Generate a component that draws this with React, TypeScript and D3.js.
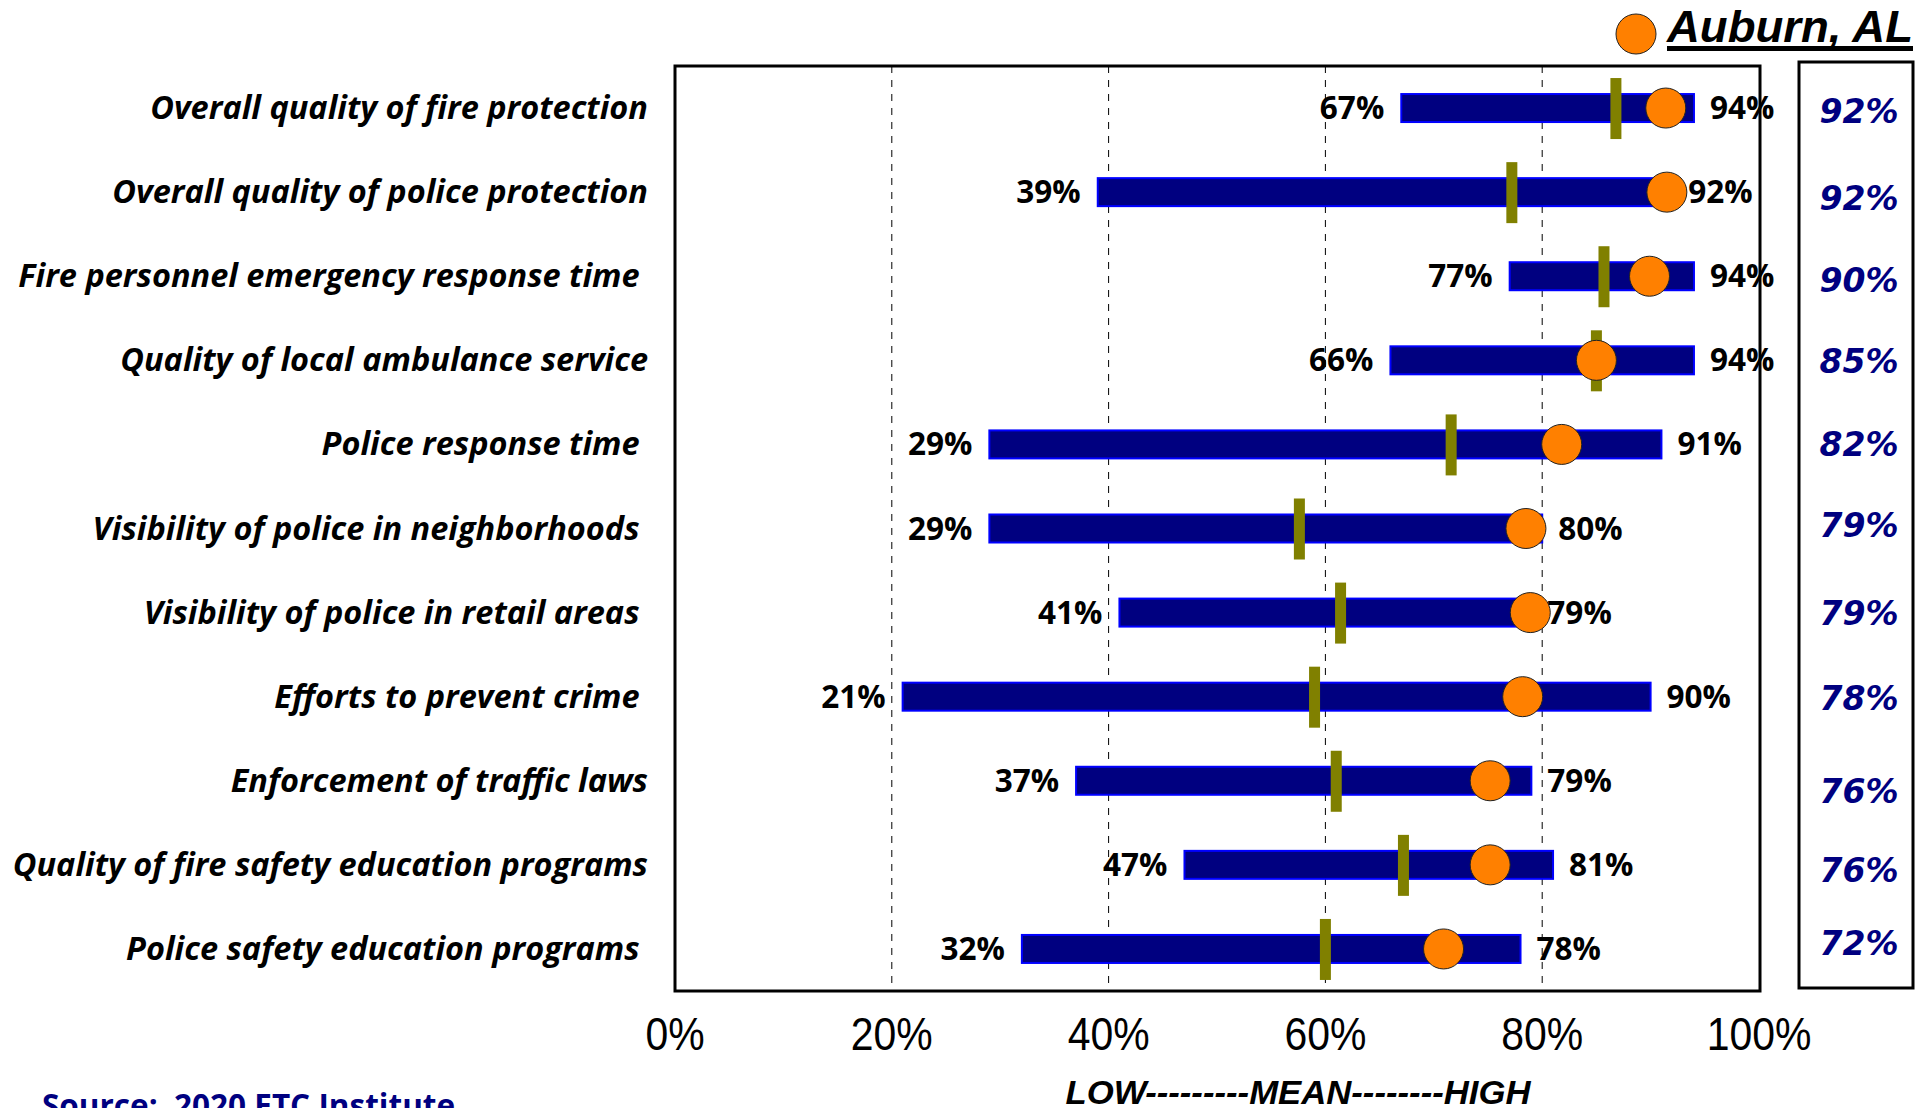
import React, { useEffect, useRef } from "react";
import * as d3 from "d3";

// categories, top to bottom
const categories = [
  "Overall quality of fire protection",
  "Overall quality of police protection",
  "Fire personnel emergency response time ",
  "Quality of local ambulance service",
  "Police response time ",
  "Visibility of police in neighborhoods ",
  "Visibility of police in retail areas ",
  "Efforts to prevent crime ",
  "Enforcement of traffic laws",
  "Quality of fire safety education programs",
  "Police safety education programs ",
];

const lowValues = [67, 39, 77, 66, 29, 29, 41, 21, 37, 47, 32];
const highValues = [94, 92, 94, 94, 91, 80, 79, 90, 79, 81, 78];
const meanValues = [86.8, 77.2, 85.7, 85.0, 71.6, 57.6, 61.4, 59.0, 61.0, 67.2, 60.0];
// Auburn: where the dot sits, and the figure printed in the box on the right
const auburnDots = [91.4, 91.5, 89.9, 85.0, 81.8, 78.5, 78.9, 78.2, 75.2, 75.2, 70.9];
const auburnValues = [92, 92, 90, 85, 82, 79, 79, 78, 76, 76, 72];

const xTicks = [0, 20, 40, 60, 80, 100];

// the box figures are not quite on the row centres in the original
const boxNudge = [3, 6, 4, 1, 0, -4, 0, 1, 10, 5, -6];

const App: React.FC = () => {
  const ref = useRef<SVGSVGElement>(null);

  useEffect(() => {
    const svg = d3.select(ref.current);
    svg.selectAll("*").remove();

    const left = 675, right = 1760, top = 66, bottom = 991;

    const rows = categories.map((c, i) => ({
      name: c,
      low: lowValues[i],
      high: highValues[i],
      mean: meanValues[i],
      dot: auburnDots[i],
      city: auburnValues[i],
      nudge: boxNudge[i],
    }));

    const x = d3.scaleLinear().domain([0, 100]).range([left, right - 1]);
    const y = d3.scaleBand().domain(categories).range([top, bottom]);
    const cy = (d: string) => (y(d) as number) + y.bandwidth() / 2;

    // dashed grid lines
    svg.append("g")
      .selectAll("line")
      .data(xTicks.slice(1, -1))
      .join("line")
      .attr("x1", d => x(d)).attr("x2", d => x(d))
      .attr("y1", top).attr("y2", bottom)
      .attr("stroke", "#000")
      .attr("stroke-width", 1)
      .attr("stroke-dasharray", "7,7");

    // plot frame
    svg.append("rect")
      .attr("x", left).attr("y", top)
      .attr("width", right - left).attr("height", bottom - top)
      .attr("fill", "none")
      .attr("stroke", "#000")
      .attr("stroke-width", 3);

    // axis tick labels
    svg.append("g")
      .selectAll("text")
      .data(xTicks)
      .join("text")
      .attr("transform", d => `translate(${x(d)},1050) scale(0.89,1)`)
      .attr("text-anchor", "middle")
      .attr("font-family", "'Liberation Sans', Arial, sans-serif")
      .attr("font-size", 46)
      .attr("fill", "#000")
      .text(d => `${d}%`);

    // category labels
    svg.append("g")
      .selectAll("text")
      .data(rows)
      .join("text")
      .attr("x", 648)
      .attr("y", d => cy(d.name) + 11)
      .attr("text-anchor", "end")
      .attr("font-family", "'Open Sans', sans-serif")
      .attr("font-weight", "bold")
      .attr("font-style", "italic")
      .attr("font-size", 32.5)
      .style("white-space", "pre")
      .text(d => d.name);

    // range bars
    svg.append("g")
      .selectAll("rect")
      .data(rows)
      .join("rect")
      .attr("x", d => x(d.low))
      .attr("y", d => cy(d.name) - 14)
      .attr("width", d => x(d.high) - x(d.low))
      .attr("height", 28)
      .attr("fill", "#000080")
      .attr("stroke", "#0000ff")
      .attr("stroke-width", 2);

    // low / high labels
    const valueLabel = (sel: any) => sel
      .attr("font-family", "'Open Sans', sans-serif")
      .attr("font-weight", "bold")
      .attr("font-size", 31.5)
      .attr("fill", "#000");

    svg.append("g")
      .selectAll("text")
      .data(rows)
      .join("text")
      .attr("x", d => x(d.low) - 17)
      .attr("y", d => cy(d.name) + 11)
      .attr("text-anchor", "end")
      .call(valueLabel)
      .text(d => `${d.low}%`);

    svg.append("g")
      .selectAll("text")
      .data(rows)
      .join("text")
      .attr("x", d => x(d.high) + 16)
      .attr("y", d => cy(d.name) + 11)
      .attr("text-anchor", "start")
      .call(valueLabel)
      .text(d => `${d.high}%`);

    // mean markers
    svg.append("g")
      .selectAll("rect")
      .data(rows)
      .join("rect")
      .attr("x", d => x(d.mean) - 5.5)
      .attr("y", d => cy(d.name) - 30)
      .attr("width", 11)
      .attr("height", 61)
      .attr("fill", "#808000");

    // Auburn dots
    svg.append("g")
      .selectAll("circle")
      .data(rows)
      .join("circle")
      .attr("cx", d => x(d.dot))
      .attr("cy", d => cy(d.name))
      .attr("r", 20)
      .attr("fill", "#ff8000")
      .attr("stroke", "#222")
      .attr("stroke-width", 1);

    // right-hand value box
    svg.append("rect")
      .attr("x", 1799).attr("y", 62)
      .attr("width", 114).attr("height", 926)
      .attr("fill", "none")
      .attr("stroke", "#000")
      .attr("stroke-width", 3);

    svg.append("g")
      .selectAll("text")
      .data(rows)
      .join("text")
      .attr("x", 1859)
      .attr("y", d => cy(d.name) + 12 + d.nudge)
      .attr("text-anchor", "middle")
      .attr("font-family", "'DejaVu Sans', Verdana, sans-serif")
      .attr("font-weight", "bold")
      .attr("font-style", "italic")
      .attr("font-size", 33)
      .attr("fill", "#000080")
      .text(d => `${d.city}%`);

    // legend
    svg.append("circle")
      .attr("cx", 1636).attr("cy", 34).attr("r", 20)
      .attr("fill", "#ff8000")
      .attr("stroke", "#222")
      .attr("stroke-width", 1);
    svg.append("text")
      .attr("x", 1667).attr("y", 42)
      .attr("font-family", "'Liberation Sans', Arial, sans-serif")
      .attr("font-weight", "bold")
      .attr("font-style", "italic")
      .attr("font-size", 44)
      .attr("textLength", 246)
      .attr("lengthAdjust", "spacingAndGlyphs")
      .text("Auburn, AL");
    svg.append("line")
      .attr("x1", 1667).attr("x2", 1913)
      .attr("y1", 48.5).attr("y2", 48.5)
      .attr("stroke", "#000")
      .attr("stroke-width", 5);

    // axis caption
    svg.append("text")
      .attr("x", 1298).attr("y", 1104)
      .attr("text-anchor", "middle")
      .attr("font-family", "'Liberation Sans', Arial, sans-serif")
      .attr("font-weight", "bold")
      .attr("font-style", "italic")
      .attr("font-size", 33)
      .attr("textLength", 465)
      .attr("lengthAdjust", "spacingAndGlyphs")
      .text("LOW---------MEAN--------HIGH");

    // source note
    svg.append("text")
      .attr("x", 42).attr("y", 1117)
      .attr("font-family", "'Open Sans', sans-serif")
      .attr("font-weight", "bold")
      .attr("font-size", 31.5)
      .attr("fill", "#000080")
      .style("white-space", "pre")
      .text("Source:  2020 ETC Institute");
  }, []);

  return (
    <svg
      ref={ref}
      width={1931}
      height={1108}
      style={{ position: "absolute", left: 0, top: 0, background: "#fff" }}
    />
  );
};

export default App;
